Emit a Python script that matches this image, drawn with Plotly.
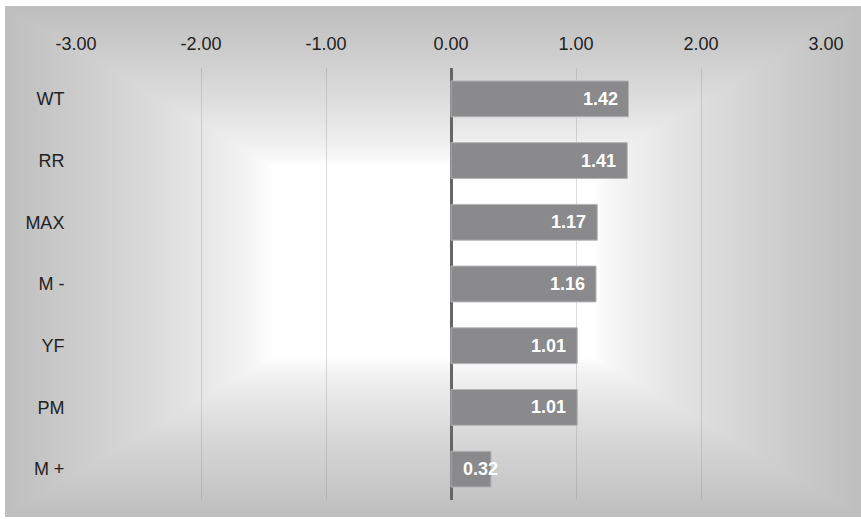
import base64, struct, zlib
import numpy as np
import plotly.graph_objects as go

categories = ["WT", "RR", "MAX", "M -", "YF", "PM", "M +"]
values = [1.42, 1.41, 1.17, 1.16, 1.01, 1.01, 0.32]
tick_vals = [-3, -2, -1, 0, 1, 2, 3]
tick_text = [f"{v:.2f}" for v in tick_vals]

FONT = "Liberation Sans, Arial, Helvetica, sans-serif"


def gradient_png(w, h):
    xs = (np.arange(w) + 0.5) / w
    ys = (np.arange(h) + 0.5) / h
    u = np.abs(xs[None, :] - 0.5) / 0.5
    v = np.abs(ys[:, None] - 0.5) / 0.5
    t = np.maximum(u, v)
    s = np.clip((t - 0.38) / 0.62, 0, 1) ** 0.75
    img = (255 - 64 * s).astype(np.uint8)
    raw = b"".join(b"\x00" + img[r].tobytes() for r in range(h))

    def chunk(tag, data):
        c = struct.pack(">I", len(data)) + tag + data
        return c + struct.pack(">I", zlib.crc32(tag + data) & 0xFFFFFFFF)

    png = b"\x89PNG\r\n\x1a\n"
    png += chunk(b"IHDR", struct.pack(">IIBBBBB", w, h, 8, 0, 0, 0, 0))
    png += chunk(b"IDAT", zlib.compress(raw, 9))
    png += chunk(b"IEND", b"")
    return "data:image/png;base64," + base64.b64encode(png).decode()


W, H = 861, 519
ML, MR, MT, MB = 76, 35, 68, 19
PW, PH = W - ML - MR, H - MT - MB
bg_x0, bg_x1, bg_y0, bg_y1 = 5, 861, 6, 517

fig = go.Figure()
fig.add_trace(go.Bar(
    x=values, y=categories, orientation="h",
    marker=dict(color="#8a8a8c", line=dict(color="#b4b4b6", width=1)),
    hoverinfo="x+y",
))

annotations = []
for c, v in zip(categories, values):
    if v < 0.5:
        annotations.append(dict(x=0, y=c, xref="x", yref="y", text=f"<b>{v:.2f}</b>",
                                showarrow=False, xanchor="left", xshift=10,
                                font=dict(family=FONT, size=18, color="white")))
    else:
        annotations.append(dict(x=v, y=c, xref="x", yref="y", text=f"<b>{v:.2f}</b>",
                                showarrow=False, xanchor="right", xshift=-9,
                                font=dict(family=FONT, size=18, color="white")))

fig.update_layout(
    width=W, height=H,
    margin=dict(l=ML, r=MR, t=MT, b=MB, pad=0),
    paper_bgcolor="white",
    plot_bgcolor="rgba(0,0,0,0)",
    bargap=0.42,
    showlegend=False,
    font=dict(family=FONT, size=18, color="#222222"),
    annotations=annotations,
    images=[dict(
        source=gradient_png(428, 256),
        xref="paper", yref="paper",
        x=(bg_x0 - ML) / PW, y=1 + (MT - bg_y0) / PH,
        sizex=(bg_x1 - bg_x0) / PW, sizey=(bg_y1 - bg_y0) / PH,
        xanchor="left", yanchor="top", sizing="stretch", layer="below",
    )],
    xaxis=dict(
        side="top", range=[-3, 3], tickvals=tick_vals, ticktext=tick_text,
        showgrid=True, gridcolor="rgba(140,140,140,0.3)", gridwidth=1,
        zeroline=True, zerolinecolor="#666666", zerolinewidth=2.5,
        ticks="outside", ticklen=10, tickcolor="rgba(0,0,0,0)",
        showline=False, tickfont=dict(size=18, color="#222222"),
    ),
    yaxis=dict(
        categoryorder="array", categoryarray=categories, autorange="reversed",
        showgrid=False, zeroline=False, showline=False,
        ticks="outside", ticklen=7, tickcolor="rgba(0,0,0,0)",
        tickfont=dict(size=18, color="#222222"),
    ),
)

fig.write_html("out.html")
